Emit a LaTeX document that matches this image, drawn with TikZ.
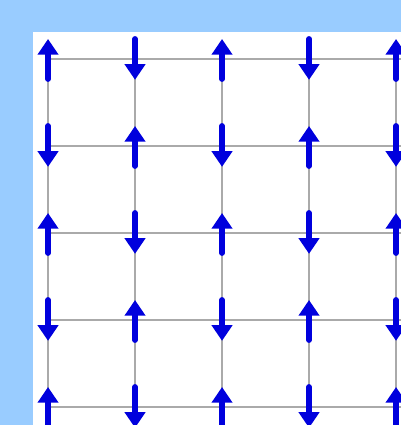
\documentclass[tikz,border=0pt]{standalone}
\usepackage{tikz}
\usetikzlibrary{arrows.meta}
\definecolor{skyBg}{HTML}{99CCFF}
\definecolor{spinColor}{HTML}{0000DD}
\definecolor{latticeGray}{HTML}{AAAAAA}

\begin{document}
\begin{tikzpicture}[
    gridline/.style={latticeGray, line width=0.8pt},
    spinarrow/.style={spinColor, line width=1.9pt, line cap=round,
        -{Triangle[width=2.3mm, length=1.8mm]}}
  ]
    \useasboundingbox (-0.552,-4.207) rectangle (4.057,0.678);
    \clip (-0.552,-4.207) rectangle (4.057,0.678);
    \fill[skyBg] (-0.552,-4.207) rectangle (4.057,0.678);
    \fill[white] (-0.172,-4.207) rectangle (4.057,0.310);

    % lattice sites
    \foreach \i in {0,...,4}
      \foreach \j in {0,...,4}
        \coordinate (s-\i-\j) at (\i,-\j);
    \foreach \k in {0,...,4} {
      \coordinate (bot-\k) at (\k,-4.3);
      \coordinate (rgt-\k) at (4.2,-\k);
    }

    % grid
    \foreach \k in {0,...,4} {
      \draw[gridline] (s-\k-0) -- (bot-\k);
      \draw[gridline] (s-0-\k) -- (rgt-\k);
    }

    % spins, alternating up and down
    \foreach \i in {0,...,4}
      \foreach \j in {0,...,4} {
        \pgfmathtruncatemacro{\spinpar}{mod(\i+\j,2)}
        \ifnum\spinpar=0
          \draw[spinarrow] (s-\i-\j) ++(0,-0.23) -- ++(0,0.46);
        \else
          \draw[spinarrow] (s-\i-\j) ++(0,0.23) -- ++(0,-0.47);
        \fi
      }
\end{tikzpicture}
\end{document}
